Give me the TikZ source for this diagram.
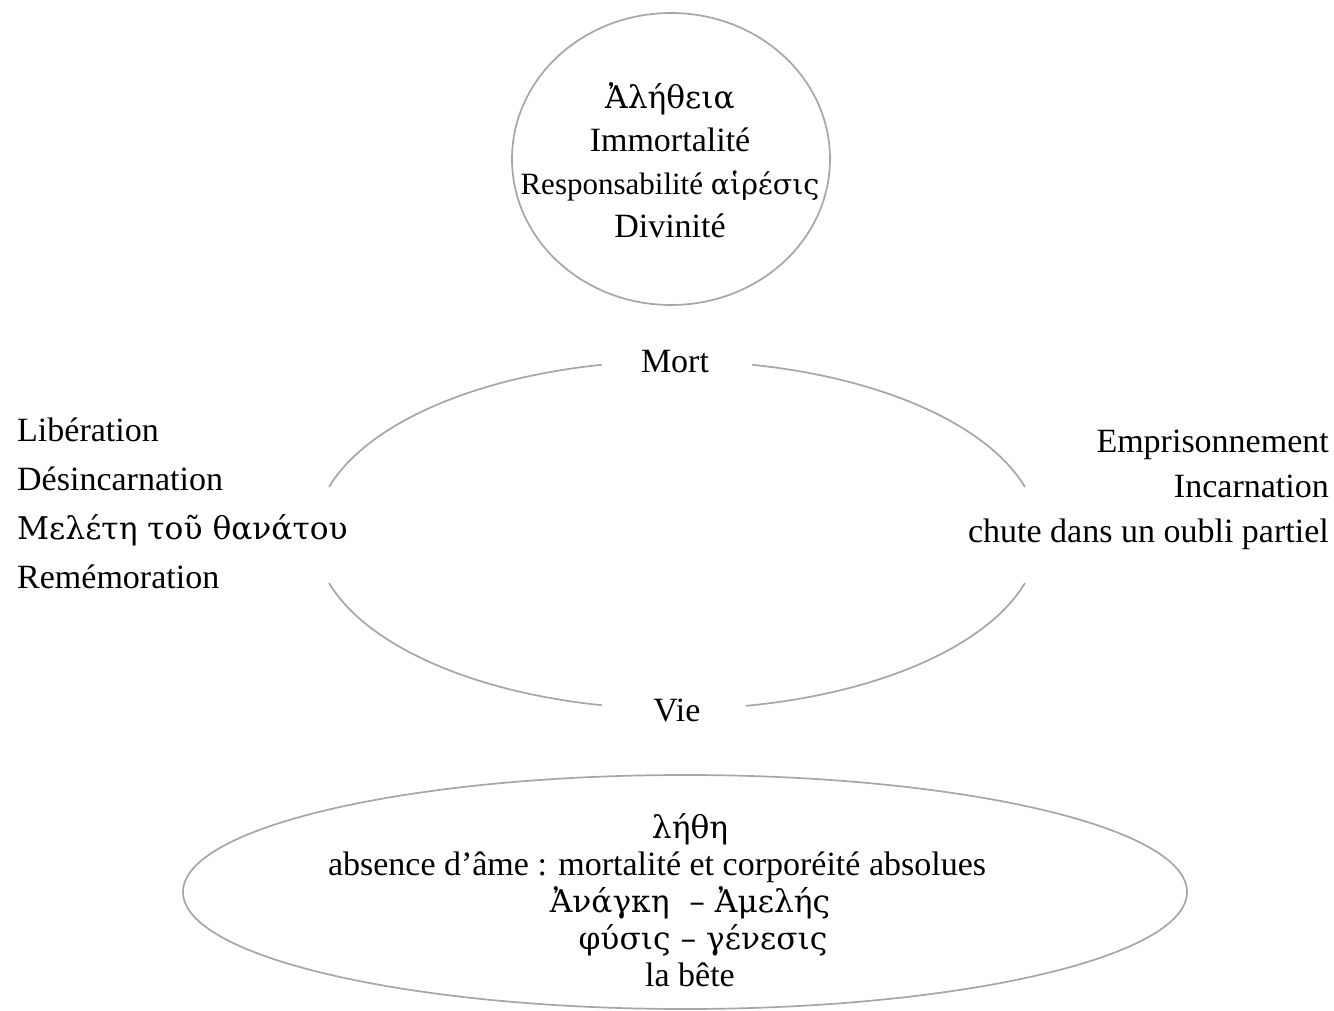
\documentclass[tikz,border=0pt]{standalone}
\usepackage{fontspec}
\setmainfont{Liberation Serif}
\newfontfamily\gr[Scale=0.92]{DejaVu Serif}

\begin{document}
\begin{tikzpicture}[x=1pt,y=-1pt,
  rim/.style={draw=gray!70,line width=1.7pt},
  txt/.style={inner sep=0pt,font=\fontsize{34}{43}\selectfont}]
\useasboundingbox (0,0) rectangle (1334,1011);
% the three rings
\draw[rim] (671,159) ellipse [x radius=159,y radius=146];
\draw[rim] (677,535) ++(16:362 and 174) arc[start angle=16,end angle=79,x radius=362,y radius=174];
\draw[rim] (677,535) ++(102:362 and 174) arc[start angle=102,end angle=164,x radius=362,y radius=174];
\draw[rim] (677,535) ++(196:362 and 174) arc[start angle=196,end angle=258,x radius=362,y radius=174];
\draw[rim] (677,535) ++(282:362 and 174) arc[start angle=282,end angle=344,x radius=362,y radius=174];
\draw[rim] (685,892) ellipse [x radius=502,y radius=117];
% texts
\node[txt,align=center](truth) at (670,160){{\gr Ἀλήθεια}\\Immortalité\\{\fontsize{31}{43}\selectfont Responsabilité {\gr αἱρέσις}}\\Divinité};
\node[txt](death) at (675,362){Mort};
\node[txt](life) at (677,710){Vie};
\node[txt,anchor=west,align=left,font=\fontsize{34}{49}\selectfont](free) at (17,503){Libération\\Désincarnation\\{\gr Μελέτη τοῦ θανάτου}\\Remémoration};
\node[txt,anchor=east,align=right,font=\fontsize{34}{45}\selectfont](jail) at (1329,490){Emprisonnement\\Incarnation\\chute dans un oubli partiel};
\node[txt,align=center,font=\fontsize{34}{37}\selectfont](oblivion) at (690,900){{\gr λήθη}\\\hspace*{-66pt}absence d’âme : mortalité et corporéité absolues\\{\gr Ἀνάγκη\ \ – Ἀμελής}\\\hspace*{26pt}{\gr φύσις – γένεσις}\\la bête};
\end{tikzpicture}
\end{document}
